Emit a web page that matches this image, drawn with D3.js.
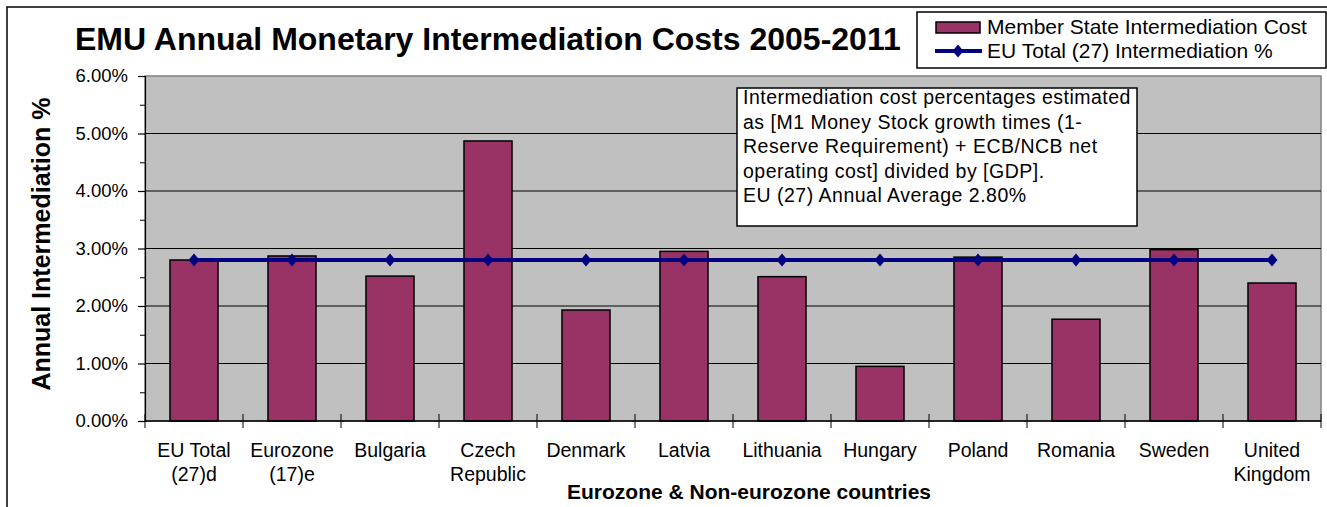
<!DOCTYPE html>
<html>
<head>
<meta charset="utf-8">
<script src="https://cdn.jsdelivr.net/npm/d3@7/dist/d3.min.js"></script>
<style>
  html, body { margin: 0; padding: 0; background: #ffffff; }
  svg { display: block; font-family: "Liberation Sans", Arial, sans-serif; }
</style>
</head>
<body>
<svg id="chart" width="1327" height="507"></svg>
<script>
// Country groups (two-line axis labels)
const categories = [
  "EU Total (27)d", "Eurozone (17)e", "Bulgaria", "Czech Republic", "Denmark", "Latvia",
  "Lithuania", "Hungary", "Poland", "Romania", "Sweden", "United Kingdom"
];
const categoryLines = [
  ["EU Total", "(27)d"], ["Eurozone", "(17)e"], ["Bulgaria"], ["Czech", "Republic"],
  ["Denmark"], ["Latvia"], ["Lithuania"], ["Hungary"], ["Poland"], ["Romania"],
  ["Sweden"], ["United", "Kingdom"]
];
// Annual intermediation cost, % of GDP
const memberStateCost = [2.80, 2.87, 2.52, 4.87, 1.93, 2.95, 2.51, 0.95, 2.85, 1.77, 2.98, 2.40];
// EU (27) average, drawn as a reference line
const euTotalPct = [2.80, 2.80, 2.80, 2.80, 2.80, 2.80, 2.80, 2.80, 2.80, 2.80, 2.80, 2.80];
const yTicks = [0, 1, 2, 3, 4, 5, 6];
const yMinorTicks = [0.5, 1.5, 2.5, 3.5, 4.5, 5.5];

const titleText = "EMU Annual Monetary Intermediation Costs 2005-2011";
const yTitle = "Annual Intermediation %";
const xTitle = "Eurozone & Non-eurozone countries";
const seriesNames = ["Member State Intermediation Cost", "EU Total (27) Intermediation %"];
const noteLines = [
  "Intermediation cost percentages estimated",
  "as [M1 Money Stock growth times (1-",
  "Reserve Requirement) + ECB/NCB net",
  "operating cost] divided by [GDP].",
  "EU (27) Annual Average 2.80%"
];

const barColor = "#993366";
const lineColor = "#000080";

const svg = d3.select("#chart");
const plot = { left: 145, right: 1321, top: 76, bottom: 421 };

const x = d3.scaleBand().domain(categories).range([plot.left, plot.right]).paddingInner(0.51).paddingOuter(0.255);
const xOuter = d3.scaleBand().domain(categories).range([plot.left, plot.right]);
const y = d3.scaleLinear().domain([0, 6]).range([plot.bottom, plot.top]);

// Outer chart frame
svg.append("rect").attr("x", 7).attr("y", 7).attr("width", 1340).attr("height", 620)
  .attr("fill", "#ffffff").attr("stroke", "#000").attr("stroke-width", 1.5);

// Plot background
svg.append("rect").attr("x", plot.left).attr("y", plot.top)
  .attr("width", plot.right - plot.left).attr("height", plot.bottom - plot.top)
  .attr("fill", "#c0c0c0").attr("stroke", "#808080").attr("stroke-width", 1.5);

// Horizontal gridlines
svg.append("g").selectAll("line").data(yTicks.filter(d => d > 0 && d < 6)).join("line")
  .attr("x1", plot.left).attr("x2", plot.right)
  .attr("y1", d => y(d)).attr("y2", d => y(d))
  .attr("stroke", "#000").attr("stroke-width", 1);

// Title
svg.append("text").attr("x", 75).attr("y", 50)
  .attr("font-size", 32).attr("font-weight", "bold").attr("fill", "#000")
  .text(titleText);

// Y axis
const yAxis = d3.axisLeft(y).tickValues(yTicks).tickSize(7).tickPadding(10)
  .tickFormat(d => d3.format(".2f")(d) + "%");
const gy = svg.append("g").attr("transform", `translate(${plot.left},0)`).call(yAxis);
gy.select(".domain").attr("stroke", "#000").attr("stroke-width", 1.2);
gy.selectAll(".tick line").attr("stroke", "#000").attr("stroke-width", 1.2);
gy.selectAll(".tick text").attr("font-size", 18.5).attr("fill", "#000")
  .attr("font-family", "'Liberation Sans', Arial, sans-serif");
const gyMinor = d3.axisLeft(y).tickValues(yMinorTicks).tickSize(5).tickFormat("");
const gym = svg.append("g").attr("transform", `translate(${plot.left},0)`).call(gyMinor);
gym.select(".domain").remove();
gym.selectAll(".tick line").attr("stroke", "#000").attr("stroke-width", 1);

// Y axis title
svg.append("text").attr("transform", "translate(50,244) rotate(-90)")
  .attr("text-anchor", "middle").attr("font-size", 25).attr("font-weight", "bold")
  .text(yTitle);

// Bars
svg.append("g").selectAll("rect").data(categories).join("rect")
  .attr("x", d => x(d)).attr("width", x.bandwidth())
  .attr("y", (d, i) => y(memberStateCost[i]))
  .attr("height", (d, i) => y(0) - y(memberStateCost[i]))
  .attr("fill", barColor).attr("stroke", "#000").attr("stroke-width", 1.5);

// X axis with category-boundary ticks crossing the baseline
svg.append("line").attr("x1", plot.left).attr("x2", plot.right)
  .attr("y1", y(0)).attr("y2", y(0)).attr("stroke", "#000").attr("stroke-width", 1.5);
const boundaries = categories.map(d => xOuter(d)).concat([plot.right]);
svg.append("g").selectAll("line").data(boundaries).join("line")
  .attr("x1", d => d).attr("x2", d => d)
  .attr("y1", y(0) - 7).attr("y2", y(0) + 7)
  .attr("stroke", "#000").attr("stroke-width", 1);

// Category labels
const xl = svg.append("g").selectAll("text").data(categories).join("text")
  .attr("text-anchor", "middle").attr("font-size", 19.5).attr("fill", "#000")
  .attr("x", d => x(d) + x.bandwidth() / 2).attr("y", 457);
xl.selectAll("tspan").data((d, i) => categoryLines[i]).join("tspan")
  .attr("x", function () { return d3.select(this.parentNode).attr("x"); })
  .attr("dy", (d, i) => i === 0 ? 0 : 24)
  .text(d => d);

// X axis title
svg.append("text").attr("x", 749).attr("y", 499).attr("text-anchor", "middle")
  .attr("font-size", 21).attr("font-weight", "bold").text(xTitle);

// EU total line with diamond markers
const lineGen = d3.line()
  .x((d, i) => x(categories[i]) + x.bandwidth() / 2)
  .y(d => y(d));
svg.append("path").datum(euTotalPct).attr("d", lineGen)
  .attr("fill", "none").attr("stroke", lineColor).attr("stroke-width", 4);
const diamond = "M0,-6.5L5.5,0L0,6.5L-5.5,0Z";
svg.append("g").selectAll("path").data(euTotalPct).join("path")
  .attr("d", diamond)
  .attr("transform", (d, i) => `translate(${x(categories[i]) + x.bandwidth() / 2},${y(d)})`)
  .attr("fill", lineColor);

// Note box
const note = svg.append("g");
note.append("rect").attr("x", 737).attr("y", 88).attr("width", 400).attr("height", 138)
  .attr("fill", "#fff").attr("stroke", "#000").attr("stroke-width", 1.5);
note.append("text").attr("font-size", 19.5).attr("letter-spacing", 0.5).attr("fill", "#000")
  .selectAll("tspan").data(noteLines).join("tspan")
  .attr("x", 743).attr("y", (d, i) => 104 + i * 24.5).text(d => d);

// Legend
const lg = svg.append("g");
lg.append("rect").attr("x", 917).attr("y", 12).attr("width", 409).attr("height", 56)
  .attr("fill", "#fff").attr("stroke", "#000").attr("stroke-width", 1.5);
lg.append("rect").attr("x", 936).attr("y", 22).attr("width", 44).attr("height", 11)
  .attr("fill", barColor).attr("stroke", "#000").attr("stroke-width", 1.5);
lg.append("line").attr("x1", 935).attr("x2", 982).attr("y1", 51).attr("y2", 51)
  .attr("stroke", lineColor).attr("stroke-width", 4);
lg.append("path").attr("d", diamond).attr("transform", "translate(958,51)").attr("fill", lineColor);
lg.selectAll("text.lbl").data(seriesNames).join("text").attr("class", "lbl")
  .attr("x", 987).attr("y", (d, i) => 34 + i * 24).attr("font-size", 21).attr("fill", "#000")
  .text(d => d);
</script>
</body>
</html>
